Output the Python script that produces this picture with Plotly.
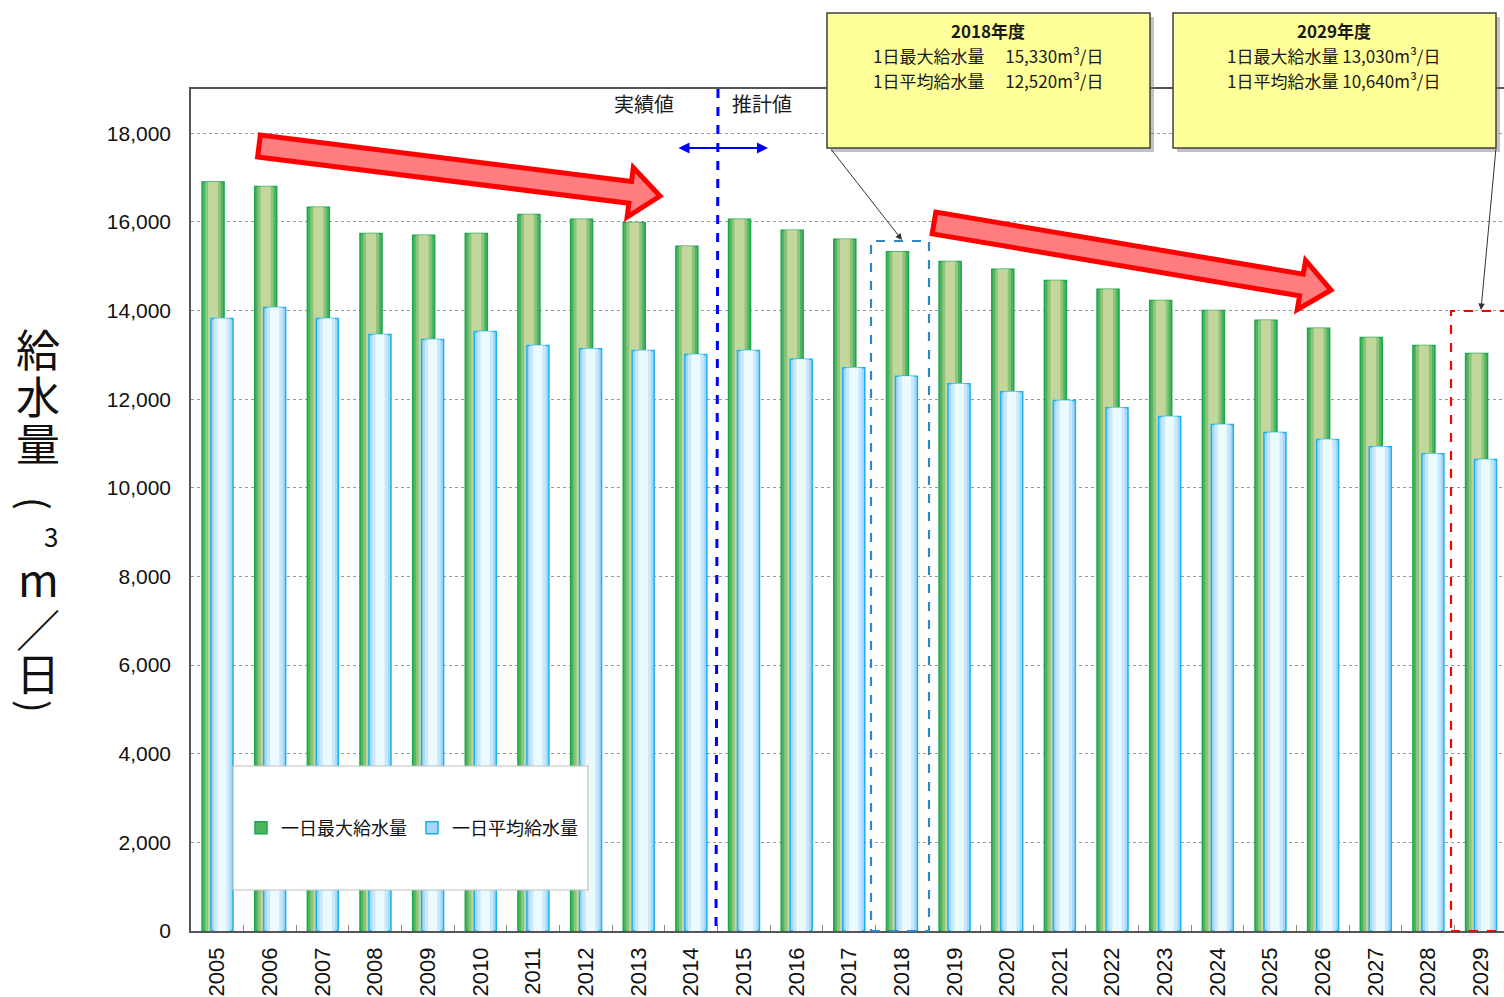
import math
import plotly.graph_objects as go

years = [str(y) for y in range(2005, 2030)]
max_supply = [16900, 16800, 16330, 15740, 15700, 15740, 16170, 16060, 15990, 15450,
              16060, 15810, 15610, 15330, 15110, 14930, 14680, 14480, 14230, 14000,
              13780, 13600, 13390, 13210, 13030]
avg_supply = [13820, 14070, 13820, 13460, 13350, 13530, 13210, 13140, 13100, 13010,
              13100, 12900, 12710, 12520, 12350, 12170, 11970, 11810, 11610, 11430,
              11250, 11090, 10930, 10770, 10640]
y_ticks = [0, 2000, 4000, 6000, 8000, 10000, 12000, 14000, 16000, 18000]
y_ticktext = [f"{v:,}" for v in y_ticks]
series_names = ["一日最大給水量", "一日平均給水量"]

JP = "Noto Sans CJK JP"

# layout geometry (pixels)
W, H = 1504, 997
L, T, R_, B = 191, 89, 1504, 931
PW, PH = R_ - L, B - T


def px(x):
    return (x - L) / PW


def py(y):
    return (B - y) / PH


fig = go.Figure()

BW = 0.418
g_off = -0.29
b_off = -0.12


def layered(values, name, off, layers):
    center = off + BW / 2
    for i, (w, col, lw, lc) in enumerate(layers):
        fig.add_trace(go.Bar(
            x=years, y=values, name=name,
            width=w, offset=center - w / 2,
            marker=dict(color=col, line=dict(color=lc, width=lw)),
            showlegend=(i == 0), hoverinfo="skip" if i else None,
        ))


layered(max_supply, series_names[0], g_off, [
    (BW, "#4db562", 1.5, "#1aa84c"),
    (BW * 0.72, "#8cc47c", 0, "#8cc47c"),
    (BW * 0.45, "#c3d79c", 0, "#c3d79c"),
])
layered(avg_supply, series_names[1], b_off, [
    (BW, "#a6d6f8", 1.5, "#18b2f0"),
    (BW * 0.72, "#c8e9fd", 0, "#c8e9fd"),
    (BW * 0.42, "#eafaff", 0, "#eafaff"),
])

shapes = []

# legend background box
shapes.append(dict(type="rect", xref="paper", yref="paper",
                   x0=px(233), x1=px(588), y0=py(890), y1=py(766),
                   fillcolor="white", line=dict(color="#c0c0c0", width=1.2), layer="above"))

# vertical separator between actual and estimated
shapes.append(dict(type="line", xref="paper", yref="paper",
                   x0=px(718), x1=px(716), y0=py(89), y1=py(931),
                   line=dict(color="#0000ff", width=3, dash="dash"), layer="above"))

# dashed highlight rectangles
shapes.append(dict(type="rect", xref="paper", yref="paper",
                   x0=px(871), x1=px(929), y0=py(931), y1=py(241),
                   line=dict(color="#2f87c9", width=2.2, dash="dash"), layer="above"))
shapes.append(dict(type="rect", xref="paper", yref="paper",
                   x0=px(1451), x1=px(1512), y0=py(931), y1=py(311),
                   line=dict(color="#ff0000", width=2.2, dash="dash"), layer="above"))


def block_arrow(tail, tip, shaft_h=11, head_h=25, head_len=30):
    (x0, y0), (x1, y1) = tail, tip
    dx, dy = x1 - x0, y1 - y0
    ln = math.hypot(dx, dy)
    ux, uy = dx / ln, dy / ln
    nx, ny = -uy, ux
    bx, by = x1 - ux * head_len, y1 - uy * head_len
    pts = [
        (x0 + nx * shaft_h, y0 + ny * shaft_h),
        (bx + nx * shaft_h, by + ny * shaft_h),
        (bx + nx * head_h, by + ny * head_h),
        (x1, y1),
        (bx - nx * head_h, by - ny * head_h),
        (bx - nx * shaft_h, by - ny * shaft_h),
        (x0 - nx * shaft_h, y0 - ny * shaft_h),
    ]
    path = "M " + " L ".join(f"{px(a):.5f},{py(b):.5f}" for a, b in pts) + " Z"
    return dict(type="path", xref="paper", yref="paper", path=path,
                fillcolor="#ff7c7f", line=dict(color="#ff0000", width=5), layer="above")


shapes.append(block_arrow((259, 146), (660, 196)))
shapes.append(block_arrow((934, 223), (1331, 290)))

# yellow callout boxes with shadow
for (x0, x1) in [(827, 1150), (1173, 1496)]:
    shapes.append(dict(type="rect", xref="paper", yref="paper",
                       x0=px(x0 + 4), x1=px(x1 + 4), y0=py(152), y1=py(17),
                       fillcolor="rgba(120,120,120,0.45)", line=dict(width=0), layer="above"))
    shapes.append(dict(type="rect", xref="paper", yref="paper",
                       x0=px(x0), x1=px(x1), y0=py(148), y1=py(13),
                       fillcolor="#ffff99", line=dict(color="#404040", width=1.5), layer="above"))

annotations = []

box_texts = [
    (988, "<b>2018年度</b>", "1日最大給水量\u3000 15,330m³/日", "1日平均給水量\u3000 12,520m³/日"),
    (1334, "<b>2029年度</b>", "1日最大給水量 13,030m³/日", "1日平均給水量 10,640m³/日"),
]
for cx, t1, t2, t3 in box_texts:
    for yy, tx in [(31, t1), (55, t2), (80, t3)]:
        annotations.append(dict(xref="paper", yref="paper", x=px(cx), y=py(yy),
                                text=tx, showarrow=False, xanchor="center", yanchor="middle",
                                font=dict(family=JP, size=17, color="#1a1a1a")))

# callout pointer arrows
annotations.append(dict(xref="paper", yref="paper", x=px(902), y=py(240), text="",
                        showarrow=True, ax=830 - 902, ay=148 - 240, arrowhead=2,
                        arrowsize=1.3, arrowwidth=1, arrowcolor="#333333"))
annotations.append(dict(xref="paper", yref="paper", x=px(1481), y=py(310), text="",
                        showarrow=True, ax=1496 - 1481, ay=148 - 310, arrowhead=2,
                        arrowsize=1.3, arrowwidth=1, arrowcolor="#333333"))

# blue double arrow and labels
annotations.append(dict(xref="paper", yref="paper", x=px(768), y=py(148), text="",
                        showarrow=True, ax=677 - 768, ay=0, arrowhead=2, startarrowhead=2,
                        arrowside="end+start", arrowsize=1, arrowwidth=2.2, arrowcolor="#0000ff"))
annotations.append(dict(xref="paper", yref="paper", x=px(644), y=py(103), text="実績値",
                        showarrow=False, xanchor="center", yanchor="middle",
                        font=dict(family=JP, size=20, color="#1a1a1a")))
annotations.append(dict(xref="paper", yref="paper", x=px(762), y=py(103), text="推計値",
                        showarrow=False, xanchor="center", yanchor="middle",
                        font=dict(family=JP, size=20, color="#1a1a1a")))

# vertical y-axis title
title_glyphs = [("給", 38, 348, 44, 0), ("水", 38, 395, 44, 0), ("量", 38, 442, 44, 0),
                ("(", 37, 503, 38, 90), ("3", 51, 535, 26, 0), ("m", 38, 578, 44, 0),
                ("／", 38, 628, 44, 0), ("日", 38, 672, 44, 0), (")", 37, 706, 38, 90)]
for ch, x, y, s, ang in title_glyphs:
    annotations.append(dict(xref="paper", yref="paper", x=px(x), y=py(y), text=ch,
                            showarrow=False, xanchor="center", yanchor="middle",
                            textangle=ang,
                            font=dict(family=JP, size=s, color="#111111")))

fig.update_layout(
    width=W, height=H,
    margin=dict(l=L, r=0, t=T, b=H - B),
    paper_bgcolor="white", plot_bgcolor="white",
    barmode="overlay",
    shapes=shapes, annotations=annotations,
    showlegend=True,
    legend=dict(orientation="h", x=px(412), y=py(828), xanchor="center", yanchor="middle",
                bgcolor="rgba(0,0,0,0)", font=dict(family=JP, size=18, color="#111111"),
                itemwidth=30, traceorder="normal"),
    xaxis=dict(type="category", range=[-0.5, 24.44], tickangle=-90,
               tickfont=dict(family="Liberation Sans", size=22, color="#111111"),
               showline=True, linecolor="#555555", linewidth=1.5, mirror=True,
               ticks="inside", tickson="boundaries", ticklen=6, tickcolor="#888888",
               showgrid=False, ticklabelstandoff=6),
    yaxis=dict(range=[0, 19000], tickvals=y_ticks, ticktext=y_ticktext,
               tickfont=dict(family="Liberation Sans", size=21, color="#111111"),
               showline=True, linecolor="#555555", linewidth=1.5,
               showgrid=True, gridcolor="#9a9a9a", griddash="dot", gridwidth=1,
               ticks="", ticklabelstandoff=14, zeroline=False),
)

fig.write_html("out.html")
